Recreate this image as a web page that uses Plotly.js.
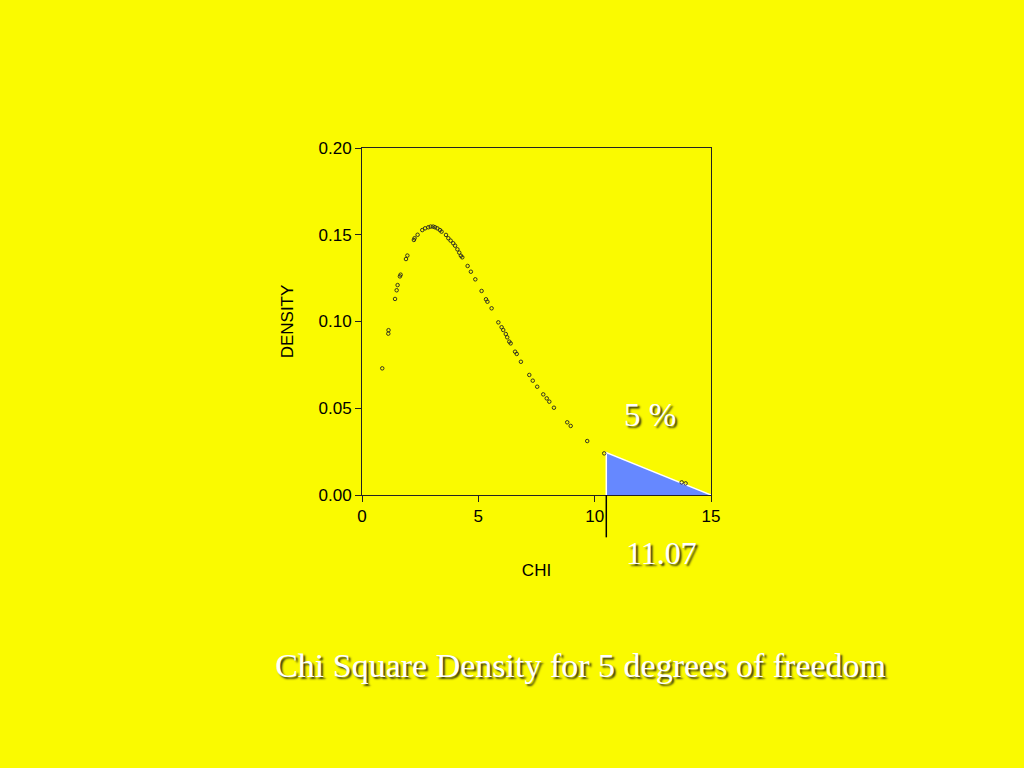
<!DOCTYPE html>
<html>
<head>
<meta charset="utf-8">
<script src="https://cdn.plot.ly/plotly-3.0.1.min.js"></script>
<style>html,body{margin:0;padding:0;background:#FAFA00;}#chart{width:1024px;height:768px;}</style>
</head>
<body>
<div id="chart"></div>
<script>
const CHI = [0.87, 1.13, 1.14, 1.42, 1.49, 1.53, 1.63, 1.66, 1.89, 1.95, 2.23, 2.26, 2.39, 2.59, 2.71, 2.85, 2.95, 3.06, 3.14, 3.24, 3.35, 3.42, 3.61, 3.71, 3.81, 3.92, 4.00, 4.10, 4.18, 4.25, 4.31, 4.54, 4.68, 4.87, 5.14, 5.33, 5.39, 5.57, 5.86, 6.00, 6.07, 6.18, 6.24, 6.33, 6.39, 6.58, 6.65, 6.83, 7.19, 7.34, 7.53, 7.79, 7.94, 8.05, 8.25, 8.82, 8.97, 9.68, 10.41, 13.74, 13.91];
const DENSITY = [0.073, 0.093, 0.095, 0.113, 0.118, 0.121, 0.126, 0.127, 0.136, 0.138, 0.147, 0.148, 0.150, 0.1527, 0.1537, 0.1543, 0.1547, 0.1547, 0.1543, 0.1537, 0.1527, 0.1518, 0.1499, 0.1480, 0.1466, 0.1451, 0.1437, 0.1416, 0.1397, 0.1379, 0.1370, 0.132, 0.1287, 0.1243, 0.1176, 0.1128, 0.1114, 0.1076, 0.0995, 0.0967, 0.0951, 0.0928, 0.0909, 0.0884, 0.0874, 0.0826, 0.0813, 0.0768, 0.0692, 0.0659, 0.0624, 0.0580, 0.0557, 0.0538, 0.0503, 0.0419, 0.0398, 0.0311, 0.0240, 0.0073, 0.0067];
// shaded upper tail (drawn as a triangle in the original)
const TAIL_X = [10.5, 10.5, 15];
const TAIL_Y = [0, 0.0245, 0];
const CUT_X = 10.5;
const CUT_LABEL = '11.07';
const TAIL_LABEL = '5 %';
const TITLE = 'Chi Square Density for 5 degrees of freedom';
const X_TICKS = [0, 5, 10, 15];
const Y_TICKS = [0, 0.05, 0.10, 0.15, 0.20];

const bg = '#FAFA00';
const shadowFont = {family: '"Liberation Serif", "Times New Roman", serif', color: '#FFFFFF', shadow: '2px 2px 2px #3a3a10'};

const traces = [
  {
    x: TAIL_X, y: TAIL_Y, type: 'scatter', mode: 'lines',
    fill: 'toself', fillcolor: '#6688FF',
    line: {color: '#FFFFFF', width: 1.5},
    hoverinfo: 'skip', showlegend: false
  },
  {
    x: CHI, y: DENSITY, type: 'scatter', mode: 'markers',
    marker: {symbol: 'circle-open', size: 3.5, color: '#222222', line: {width: 0.9}},
    showlegend: false
  }
];

const axisFont = {family: '"Liberation Sans", Arial, sans-serif', size: 17, color: '#000'};

const layout = {
  width: 1024, height: 768,
  paper_bgcolor: bg, plot_bgcolor: bg,
  margin: {l: 362, r: 313, t: 148, b: 273},
  showlegend: false,
  title: {
    text: TITLE, xref: 'container', yref: 'container',
    x: 0.567, y: 0.134, xanchor: 'center', yanchor: 'middle',
    font: Object.assign({size: 34}, shadowFont)
  },
  xaxis: {
    range: [0, 15], tickvals: X_TICKS, ticktext: X_TICKS.map(String),
    showgrid: false, zeroline: false,
    showline: true, linecolor: '#222', linewidth: 1, mirror: true,
    ticks: 'outside', ticklen: 6, tickcolor: '#222',
    tickfont: axisFont, automargin: true,
    title: {text: 'CHI', font: axisFont, standoff: 38}
  },
  yaxis: {
    range: [0, 0.2], tickvals: Y_TICKS, tickformat: '.2f',
    showgrid: false, zeroline: false,
    showline: true, linecolor: '#222', linewidth: 1, mirror: true,
    ticks: 'outside', ticklen: 6, tickcolor: '#222',
    tickfont: axisFont, automargin: true,
    title: {text: 'DENSITY', font: axisFont, standoff: 20}
  },
  shapes: [
    {type: 'line', xref: 'x', yref: 'paper', x0: CUT_X, x1: CUT_X, y0: 0, y1: -0.122,
     line: {color: '#000', width: 1.5}}
  ],
  annotations: [
    {text: TAIL_LABEL, xref: 'x', yref: 'y', x: 12.38, y: 0.046, showarrow: false,
     xanchor: 'center', yanchor: 'middle', font: Object.assign({size: 33}, shadowFont)},
    {text: CUT_LABEL, xref: 'x', yref: 'paper', x: 12.88, y: -0.166, showarrow: false,
     xanchor: 'center', yanchor: 'middle', font: Object.assign({size: 32}, shadowFont)}
  ]
};

Plotly.newPlot('chart', traces, layout, {displayModeBar: false, staticPlot: true});
</script>
</body>
</html>
